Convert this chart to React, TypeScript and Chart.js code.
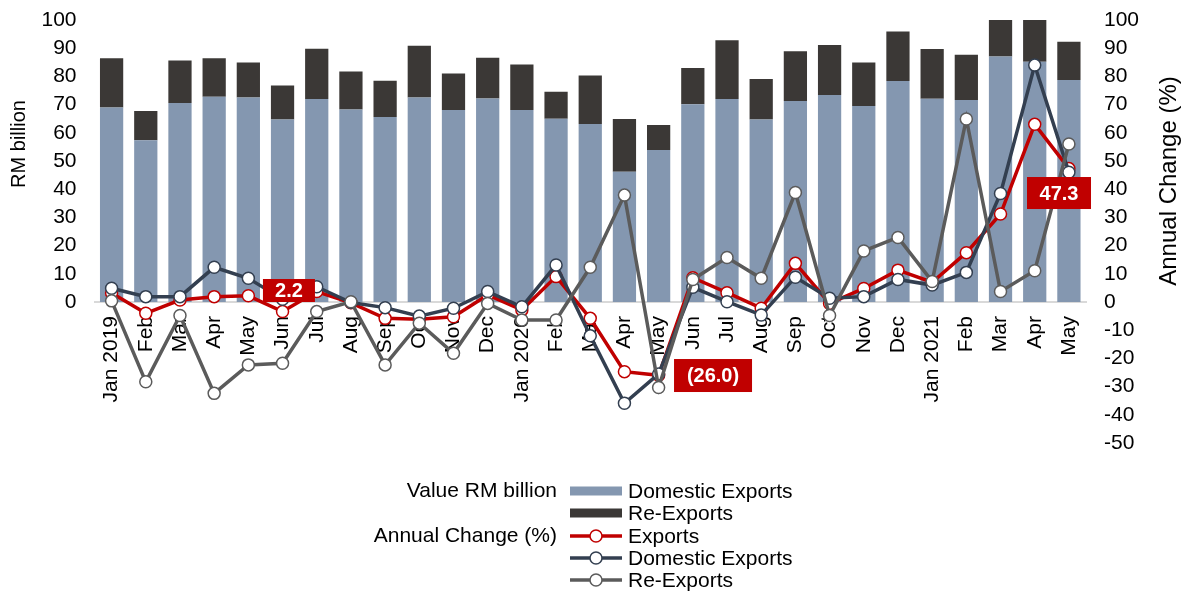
import React, { useEffect, useRef } from 'react';
import { Chart, registerables } from 'chart.js';

Chart.register(...registerables);

const FONT = '"Liberation Sans", Arial, sans-serif';

const months = [
  'Jan 2019', 'Feb', 'Mar', 'Apr', 'May', 'Jun', 'Jul', 'Aug', 'Sep', 'Oct', 'Nov', 'Dec',
  'Jan 2020', 'Feb', 'Mar', 'Apr', 'May', 'Jun', 'Jul', 'Aug', 'Sep', 'Oct', 'Nov', 'Dec',
  'Jan 2021', 'Feb', 'Mar', 'Apr', 'May',
];

// Value, RM billion
const domesticExports = [
  69.0, 57.4, 70.6, 72.8, 72.5, 64.7, 72.0, 68.3, 65.6, 72.5, 68.1, 72.2,
  68.1, 65.0, 63.1, 46.2, 53.9, 70.1, 72.0, 64.7, 71.3, 73.4, 69.5, 78.4,
  72.1, 71.6, 87.1, 85.2, 78.7,
];
const reExports = [
  17.4, 10.3, 15.0, 13.6, 12.4, 12.1, 17.8, 13.4, 12.9, 18.4, 12.9, 14.4,
  16.1, 9.6, 17.2, 18.7, 8.9, 12.9, 20.8, 14.4, 17.6, 17.7, 15.4, 17.5,
  17.6, 16.1, 23.0, 19.3, 13.6,
];

// Annual change, %
const exportsChange = [
  3.2, -4.0, 0.7, 1.9, 2.2, -3.4, 3.7, -0.3, -5.8, -6.1, -5.2, 2.5,
  -2.8, 9.0, -5.8, -24.7, -26.0, 8.6, 3.3, -2.2, 13.7, -0.5, 4.8, 11.3,
  7.0, 17.5, 31.2, 63.0, 47.3,
];
const domesticChange = [
  4.9, 1.9, 1.9, 12.3, 8.4, 1.0, 5.4, -0.2, -2.0, -5.0, -2.2, 3.7,
  -1.7, 13.1, -12.0, -35.9, -25.5, 5.2, 0.1, -4.6, 8.8, 1.3, 1.9, 8.0,
  6.0, 10.5, 38.5, 84.0, 46.0,
];
const reExportChange = [
  0.4, -28.3, -4.8, -32.4, -22.3, -21.7, -3.4, 0.1, -22.3, -7.5, -18.2, -0.5,
  -6.4, -6.4, 12.3, 37.9, -30.3, 8.0, 15.8, 8.4, 38.8, -4.8, 18.1, 22.9,
  7.3, 64.9, 3.7, 11.1, 56.0,
];

// Exports points that carry a value label (May of each year)
const labeledPoints = [4, 16, 28];

const RED = '#C00000';
const NAVY = '#333F50';
const GREY = '#5B5B5B';
const BAR_BLUE = '#8497B0';
const BAR_DARK = '#3B3836';

const labelBoxStyle = [
  { dx: 40.6, dy: -5.3, w: 52, h: 23 },
  { dx: 54.4, dy: 0.2, w: 78, h: 33 },
  { dx: -9.9, dy: 24.4, w: 64, h: 32 },
];

const fmt = (v: number) => (v < 0 ? `(${Math.abs(v).toFixed(1)})` : v.toFixed(1));

const zeroPad = (s: any) => {
  s.paddingTop = 0;
  s.paddingBottom = 0;
  s.paddingLeft = 0;
  s.paddingRight = 0;
};

const overlayPlugin = {
  id: 'overlay',
  afterDatasetsDraw(chart: any) {
    const ctx = chart.ctx;
    const meta = chart.getDatasetMeta(2);
    ctx.save();
    labeledPoints.forEach((idx, i) => {
      const pt = meta.data[idx];
      if (!pt) return;
      const s = labelBoxStyle[i];
      const cx = pt.x + s.dx;
      const cy = pt.y + s.dy;
      ctx.fillStyle = RED;
      ctx.fillRect(cx - s.w / 2, cy - s.h / 2, s.w, s.h);
      ctx.fillStyle = '#FFFFFF';
      ctx.font = `bold 20px ${FONT}`;
      ctx.textAlign = 'center';
      ctx.textBaseline = 'middle';
      ctx.fillText(fmt(exportsChange[idx]), cx, cy + 1);
    });
    ctx.restore();
  },
  afterDraw(chart: any) {
    const ctx = chart.ctx;
    ctx.save();
    ctx.fillStyle = '#000';
    ctx.textBaseline = 'middle';
    ctx.textAlign = 'center';
    // axis titles
    ctx.font = `20px ${FONT}`;
    ctx.save();
    ctx.translate(19, 144);
    ctx.rotate(-Math.PI / 2);
    ctx.fillText('RM billion', 0, 0);
    ctx.restore();
    ctx.font = `24px ${FONT}`;
    ctx.save();
    ctx.translate(1169, 181);
    ctx.rotate(-Math.PI / 2);
    ctx.fillText('Annual Change (%)', 0, 0);
    ctx.restore();

    // legend
    const ds = chart.data.datasets;
    const rows = [491, 513, 536, 558, 580];
    ctx.font = `21px ${FONT}`;
    ctx.textAlign = 'right';
    ctx.fillText('Value RM billion', 557, rows[0]);
    ctx.fillText('Annual Change (%)', 557, rows[2]);
    ctx.textAlign = 'left';
    ds.forEach((d: any, i: number) => {
      const y = rows[i];
      if (d.type === 'bar') {
        ctx.fillStyle = d.backgroundColor;
        ctx.fillRect(570, y - 4.5, 52, 9);
      } else {
        ctx.strokeStyle = d.borderColor;
        ctx.lineWidth = 3.5;
        ctx.beginPath();
        ctx.moveTo(570, y);
        ctx.lineTo(622, y);
        ctx.stroke();
        ctx.beginPath();
        ctx.arc(596, y, 6, 0, Math.PI * 2);
        ctx.fillStyle = '#fff';
        ctx.fill();
        ctx.lineWidth = 1.5;
        ctx.stroke();
      }
      ctx.fillStyle = '#000';
      ctx.fillText(d.label, 628, y + 1);
    });
    ctx.restore();
  },
};

const lineDs = (label: string, data: number[], color: string, order: number) => ({
  type: 'line' as const,
  label,
  data,
  yAxisID: 'y1',
  borderColor: color,
  backgroundColor: '#FFFFFF',
  borderWidth: 3.5,
  pointRadius: 6,
  pointBorderWidth: 1.5,
  pointBackgroundColor: '#FFFFFF',
  pointBorderColor: color,
  tension: 0,
  fill: false,
  order,
});

export default function App() {
  const ref = useRef<HTMLCanvasElement | null>(null);
  useEffect(() => {
    if (!ref.current) return;
    const chart = new Chart(ref.current, {
      type: 'bar',
      data: {
        labels: months,
        datasets: [
          {
            type: 'bar',
            label: 'Domestic Exports',
            data: domesticExports,
            backgroundColor: BAR_BLUE,
            yAxisID: 'y',
            barPercentage: 0.68,
            categoryPercentage: 1,
            order: 10,
          },
          {
            type: 'bar',
            label: 'Re-Exports',
            data: reExports,
            backgroundColor: BAR_DARK,
            yAxisID: 'y',
            barPercentage: 0.68,
            categoryPercentage: 1,
            order: 10,
          },
          lineDs('Exports', exportsChange, RED, 3),
          lineDs('Domestic Exports', domesticChange, NAVY, 2),
          lineDs('Re-Exports', reExportChange, GREY, 1),
        ] as any,
      },
      options: {
        responsive: false,
        animation: false,
        layout: { padding: { top: 20, bottom: 148, left: 0, right: 0 } },
        plugins: { legend: { display: false }, tooltip: { enabled: false } },
        scales: {
          x: {
            type: 'category',
            position: { y: 0 } as any,
            stacked: true,
            offset: true,
            grid: { display: false, drawTicks: false },
            border: { display: true, color: '#D9D9D9', width: 2 },
            ticks: {
              autoSkip: false,
              maxRotation: 90,
              minRotation: 90,
              padding: 14,
              color: '#000',
              font: { family: FONT, size: 21 },
            },
            afterFit: (s: any) => {
              s.height = 0;
              zeroPad(s);
            },
          },
          y: {
            position: 'left',
            stacked: true,
            min: -50,
            max: 100,
            grid: { display: false, drawTicks: false },
            border: { display: false },
            ticks: {
              stepSize: 10,
              padding: 18,
              color: '#000',
              font: { family: FONT, size: 21 },
              callback: (v: any) => (Number(v) < 0 ? '' : String(v)),
            },
            afterFit: (s: any) => {
              s.width = 94.5;
              zeroPad(s);
            },
          },
          y1: {
            position: 'right',
            min: -50,
            max: 100,
            grid: { display: false, drawTicks: false },
            border: { display: false },
            ticks: {
              stepSize: 10,
              padding: 18,
              color: '#000',
              font: { family: FONT, size: 21 },
            },
            afterFit: (s: any) => {
              s.width = 100;
              zeroPad(s);
            },
          },
        },
      } as any,
      plugins: [overlayPlugin],
    });
    return () => chart.destroy();
  }, []);
  return (
    <div style={{ position: 'absolute', left: 0, top: 0, width: 1186, height: 591, background: '#fff' }}>
      <canvas ref={ref} width={1186} height={591} style={{ display: 'block' }} />
    </div>
  );
}
